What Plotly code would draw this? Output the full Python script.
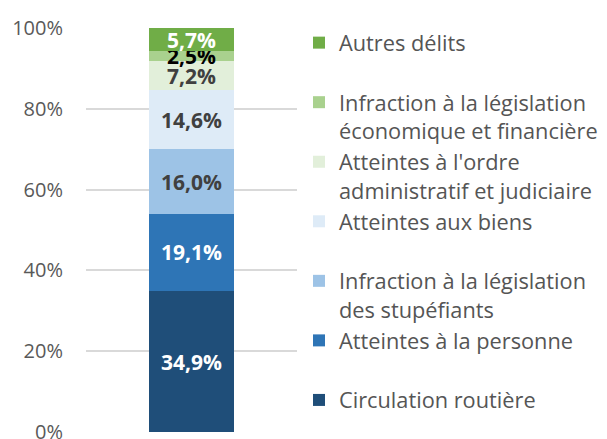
import plotly.graph_objects as go

categories = ["Total"]
series_names = [
    "Circulation routière",
    "Atteintes à la personne",
    "Infraction à la législation<br>des stupéfiants",
    "Atteintes aux biens",
    "Atteintes à l'ordre<br>administratif et judiciaire",
    "Infraction à la législation<br>économique et financière",
    "Autres délits",
]
series_values = [34.9, 19.1, 16.0, 14.6, 7.2, 2.5, 5.7]
colors = ["#1f4e79", "#2e75b6", "#9dc3e6", "#deebf7", "#e2efda", "#a9d18e", "#70ad47"]
label_colors = ["#ffffff", "#ffffff", "#404040", "#404040", "#404040", "#000000", "#ffffff"]
tick_vals = [0, 20, 40, 60, 80, 100]
tick_text = ["0%", "20%", "40%", "60%", "80%", "100%"]

FONT = "Open Sans"

fig = go.Figure()
for name, val, col, lc in zip(series_names, series_values, colors, label_colors):
    legend_name = name if "<br>" in name else name + "<br> "
    fig.add_trace(go.Bar(
        x=categories,
        y=[val],
        name=legend_name,
        marker=dict(color=col, line=dict(width=0)),
        text=[f"{val:.1f}".replace(".", ",") + "%"],
        textposition="inside",
        insidetextanchor="middle",
        constraintext="none",
        textangle=0,
        textfont=dict(family=FONT, size=21, color=lc, weight="bold"),
        hoverinfo="skip",
        width=0.4,
    ))

fig.update_layout(
    width=607,
    height=439,
    barmode="stack",
    paper_bgcolor="white",
    plot_bgcolor="white",
    margin=dict(l=86, r=310, t=28, b=7, autoexpand=False),
    font=dict(family=FONT, size=20, color="#555555"),
    showlegend=True,
    legend=dict(
        xref="container", yref="container",
        x=299 / 607, xanchor="left",
        y=1 - 22 / 439, yanchor="top",
        maxheight=436,
        traceorder="reversed",
        valign="top",
        font=dict(family=FONT, size=21.75, color="#555555"),
        bgcolor="rgba(0,0,0,0)",
        itemclick=False,
    ),
    xaxis=dict(
        showticklabels=False,
        showgrid=False,
        zeroline=False,
        showline=False,
        range=[-0.5, 0.5],
    ),
    yaxis=dict(
        range=[0, 100],
        tickvals=tick_vals,
        ticktext=tick_text,
        showgrid=True,
        gridcolor="#d9d9d9",
        gridwidth=2,
        zeroline=False,
        showline=False,
        ticks="",
        automargin=False,
        ticklabelstandoff=22,
        ticklabeloverflow="allow",
        tickfont=dict(family=FONT, size=20, color="#595959"),
    ),
)

fig.write_html(
    "out.html",
    config={"displayModeBar": False},
    post_script="document.body.style.margin='0';",
)
